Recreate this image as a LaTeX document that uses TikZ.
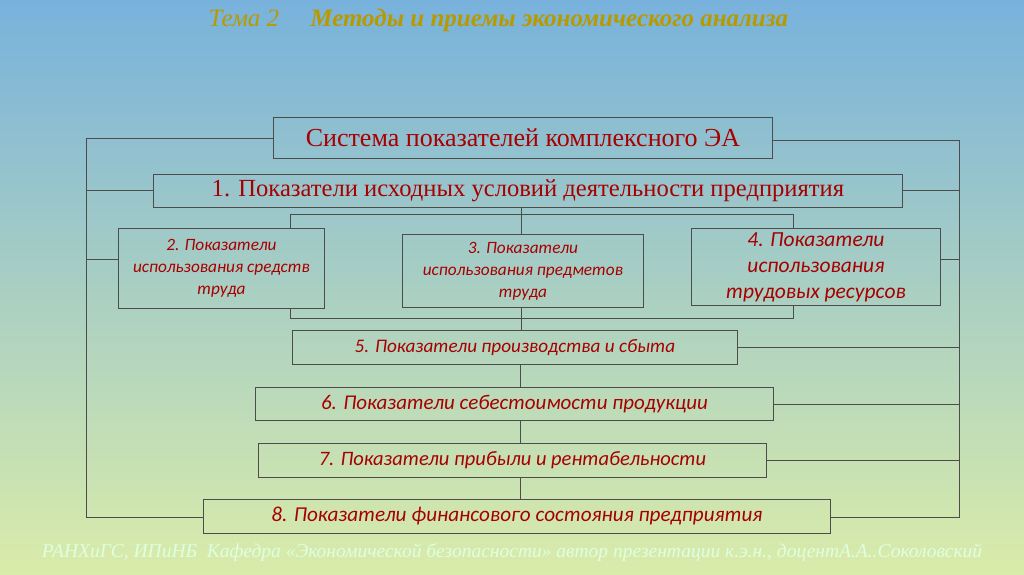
\documentclass[tikz,border=0pt]{standalone}
\usepackage{fontspec}
\setmainfont{Liberation Serif}
\newfontfamily\boxfont{Carlito}
\begin{document}
\begin{tikzpicture}[x=1pt,y=1pt,
  bx/.style={draw=black!70,line width=0.9pt,minimum height=#1,inner sep=0pt,text=red!65!black,anchor=north west,align=center},
  ln/.style={black!70,line width=0.9pt}]
\definecolor{ttl}{HTML}{B89A00}
\shade[top color={rgb,255:red,120;green,178;blue,220},bottom color={rgb,255:red,218;green,236;blue,170}] (0,0) rectangle (1024,-574);
\useasboundingbox (0,0) rectangle (1024,-574);
\node[anchor=west,font=\itshape\fontsize{25}{28}\selectfont,text=ttl] (t) at (205,-20) {Тема 2\quad\ \textbf{Методы и приемы экономического анализа}};
\node[bx=41pt,minimum width=499pt,font=\fontsize{26}{28}\selectfont] (top) at (273,-117) {Система показателей комплексного ЭА};
\node[bx=33pt,minimum width=749pt,font=\fontsize{24.6}{26}\selectfont] (b1) at (153,-174) {1. Показатели исходных условий деятельности предприятия};
\node[bx=80pt,minimum width=206pt,font=\boxfont\itshape\fontsize{17.3}{22}\selectfont] (b2) at (118,-228) {2. Показатели\\использования средств\\труда};
\node[bx=73pt,minimum width=241pt,font=\boxfont\itshape\fontsize{17.3}{22}\selectfont] (b3) at (402,-234) {3. Показатели\\использования предметов\\труда};
\node[bx=77pt,minimum width=249pt,font=\boxfont\itshape\fontsize{21.5}{26}\selectfont] (b4) at (691,-228) {4. Показатели\\использования\\трудовых ресурсов};
\node[bx=34pt,minimum width=445pt,font=\boxfont\itshape\fontsize{19.2}{22}\selectfont] (b5) at (292,-330) {5. Показатели производства и сбыта};
\node[bx=33pt,minimum width=518pt,font=\boxfont\itshape\fontsize{21}{24}\selectfont] (b6) at (255,-387) {6. Показатели себестоимости продукции};
\node[bx=34pt,minimum width=508pt,font=\boxfont\itshape\fontsize{20.5}{24}\selectfont] (b7) at (258,-443) {7. Показатели прибыли и рентабельности};
\node[bx=34pt,minimum width=627pt,font=\boxfont\itshape\fontsize{21.2}{24}\selectfont] (b8) at (203,-499) {8. Показатели финансового состояния предприятия};
\node[anchor=center,font=\itshape\fontsize{19.5}{22}\selectfont,text=white!88!green] (ft) at (512,-553) {РАНХиГС, ИПиНБ\ \ Кафедра «Экономической безопасности» автор презентации к.э.н., доцентА.А..Соколовский};
% outer frame
\coordinate (L1) at (86,-138); \coordinate (L2) at (86,-517);
\coordinate (R1) at (959,-140); \coordinate (R2) at (959,-517);
\draw[ln] (top.west|-L1) -- (L1) -- (L2) -- (b8.west|-L2);
\draw[ln] (top.east|-R1) -- (R1) -- (R2) -- (b8.east|-R2);
\draw[ln] (86,-190) -- (b1.west|-0,-190);
\draw[ln] (b1.east|-0,-190) -- (959,-190);
\draw[ln] (86,-259) -- (b2.west|-0,-259);
\draw[ln] (b4.east|-0,-259) -- (959,-259);
\foreach \b in {b5,b6,b7} \draw[ln] (\b.east) -- (\b.east-|R1);
% center
\coordinate (ta) at (290,-214); \coordinate (tb) at (793,-214);
\coordinate (ba) at (290,-318); \coordinate (bb) at (793,-318);
\draw[ln] (b1.south-|521,0) -- (521,-214);
\draw[ln] (b2.north-|ta) -- (ta) -- (tb) -- (b4.north-|tb);
\draw[ln] (521,-214) -- (b3.north-|521,0);
\draw[ln] (b2.south-|ba) -- (ba) -- (bb) -- (b4.south-|bb);
\draw[ln] (b3.south-|521,0) -- (b5.north-|521,0);
\draw[ln] (b5.south-|520,0) -- (b6.north-|520,0);
\draw[ln] (b6.south-|520,0) -- (b7.north-|520,0);
\draw[ln] (b7.south-|520,0) -- (b8.north-|520,0);
\end{tikzpicture}
\end{document}
